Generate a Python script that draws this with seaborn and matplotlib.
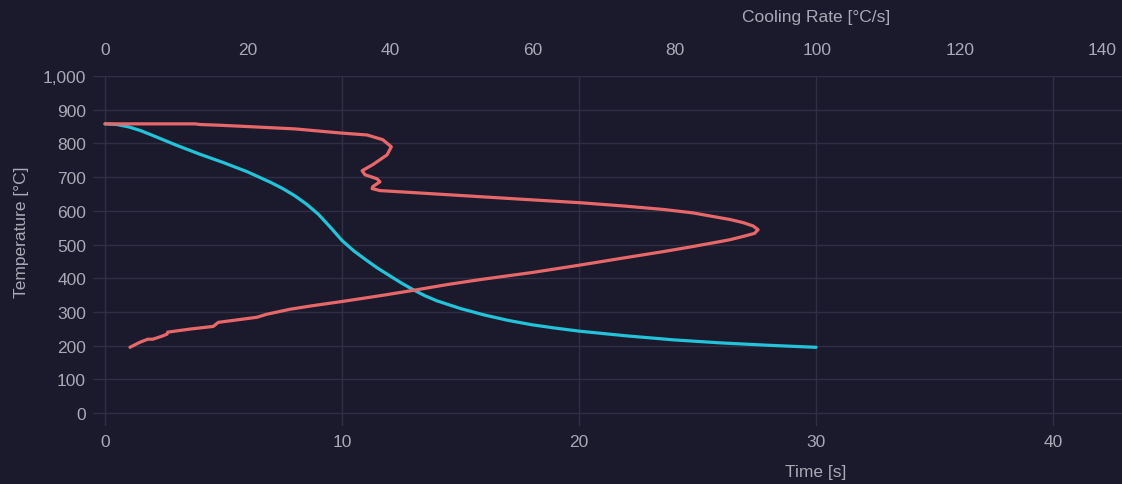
import matplotlib
matplotlib.use("Agg")
import matplotlib.pyplot as plt
import pandas as pd
import seaborn as sns

# Cooling curve: temperature over time
time_s = [0, 0.5, 1, 1.5, 2, 3, 4, 5, 6, 7, 7.5, 8, 8.5, 9, 9.5, 10, 10.5, 11,
          11.5, 12, 12.5, 13, 13.5, 14, 15, 16, 17, 18, 19, 20, 22, 24, 26, 28,
          30]
temp_time = [858, 856, 849, 838, 824, 795, 768, 743, 716, 684, 666, 645, 620,
             590, 552, 512, 481, 455, 430, 408, 386, 366, 348, 333, 310, 291,
             275, 262, 252, 243, 229, 217, 208, 201, 195]

# Cooling rate against temperature (path order, from austenitizing temp down)
cooling_rate = [0, 10.5, 12.6, 13.4, 16, 20, 26.7, 33.0, 36.8, 39.0, 40.2,
                39.6, 37.6, 36.1, 36.5, 38.2, 38.6, 37.6, 37.5, 38.6, 43.3, 50.3,
                58, 66.7, 73, 78.4, 82.5, 85.4, 87.8, 89.6, 91.0, 91.7, 91.2,
                89.6, 87.7, 85.4, 82, 78.4, 72.5, 66.7, 60, 52.7, 48, 43.3, 38.6,
                33.3, 29, 26, 22.7, 21.3, 15.9, 15.2, 11.9, 8.8, 8.7, 8.0, 6.7,
                6.0, 4.9, 3.5]
temp_rate = [858, 858, 858, 856, 854, 850, 843, 831, 825, 811, 790, 766, 737,
             719, 707, 695, 686, 672, 666, 660, 654, 645, 635, 624, 614, 604,
             594, 583, 574, 565, 555, 544, 533, 524, 514, 505, 492, 479, 459,
             439, 417, 396, 381, 364, 348, 331, 318, 308, 293, 284, 269, 257,
             249, 240, 234, 228, 219, 219, 210, 195]

temp_ticks = list(range(0, 1001, 100))
time_ticks = [0, 10, 20, 30, 40]
rate_ticks = list(range(0, 141, 20))

BG = "#1b1a2d"
GRID = "#2f2e42"
TEXT = "#a9a9b6"
RED = "#e8686a"
CYAN = "#23c3d9"

sns.set_theme(style="dark", rc={
    "figure.facecolor": BG,
    "axes.facecolor": BG,
    "axes.edgecolor": BG,
    "grid.color": GRID,
    "text.color": TEXT,
    "xtick.color": TEXT,
    "ytick.color": TEXT,
    "axes.labelcolor": TEXT,
    "lines.solid_joinstyle": "round",
    "lines.solid_capstyle": "round",
})
plt.rcParams["font.family"] = ["Liberation Sans", "DejaVu Sans"]

W, H = 1122, 485
fig = plt.figure(figsize=(W / 100, H / 100), dpi=100)
left, right, top, bottom = 93, 1122, 77, 427
ax = fig.add_axes([left / W, (H - bottom) / H, (right - left) / W, (bottom - top) / H])

df_time = pd.DataFrame({"Time": time_s, "Temperature": temp_time})
df_rate = pd.DataFrame({"Rate": cooling_rate, "Temperature": temp_rate})

sns.lineplot(data=df_time, x="Time", y="Temperature", ax=ax, color=CYAN,
             linewidth=2.3, sort=False, estimator=None)
ax.set_xlim(-0.506, 42.91)
ax.set_ylim(-38.5, 1000)
ax.set_xticks(time_ticks)
ax.set_yticks(temp_ticks)
ax.set_yticklabels([f"{v:,}" for v in temp_ticks])
ax.grid(True, color=GRID, linewidth=1)
ax.tick_params(axis="both", length=0, labelsize=12.5)
ax.tick_params(axis="x", pad=6)
ax.tick_params(axis="y", pad=5)
for s in ax.spines.values():
    s.set_visible(False)
ax.set_xlabel("Time [s]", fontsize=12.5)
ax.set_ylabel("Temperature [°C]", fontsize=12.5)
ax.xaxis.set_label_coords((816 - left) / (right - left), -(473 - bottom) / (bottom - top))
ax.yaxis.set_label_coords((22 - left) / (right - left), (bottom - 232) / (bottom - top))
ax.xaxis.label.set_va("center")
ax.yaxis.label.set_va("center")

ax2 = ax.twiny()
sns.lineplot(data=df_rate, x="Rate", y="Temperature", ax=ax2, color=RED,
             linewidth=2.3, sort=False, estimator=None)
ax2.set_xlim(-1.69, 142.8)
ax2.set_ylim(-38.5, 1000)
ax2.set_xticks(rate_ticks)
ax2.grid(False)
ax2.tick_params(axis="x", length=0, labelsize=12.5, pad=14)
for s in ax2.spines.values():
    s.set_visible(False)
ax2.set_xlabel("Cooling Rate [°C/s]", fontsize=12.5)
ax2.xaxis.set_label_coords((816 - left) / (right - left), 1 + (top - 17) / (bottom - top))
ax2.xaxis.label.set_va("center")

fig.savefig("out.png", dpi=100, facecolor=BG)
